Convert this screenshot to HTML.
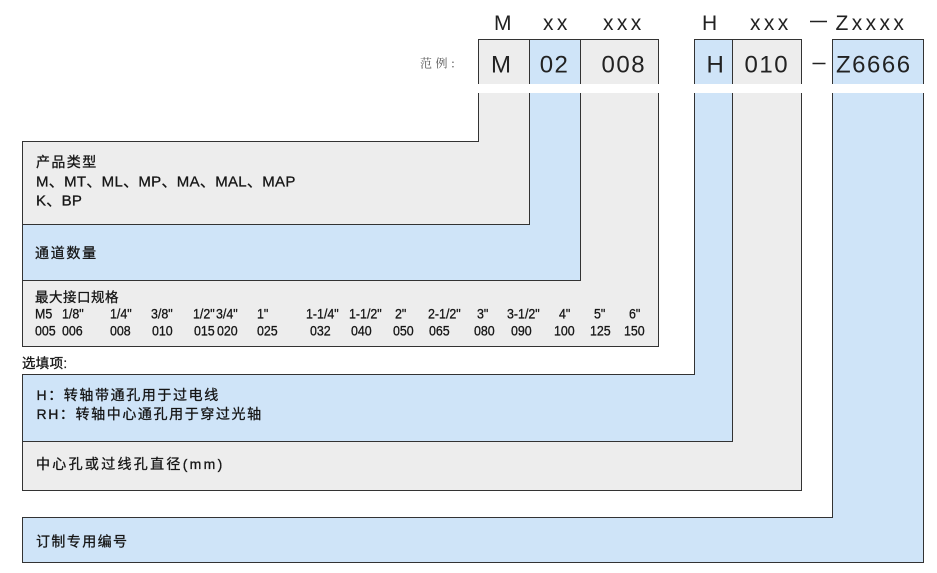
<!DOCTYPE html>
<html>
<head>
<meta charset="utf-8">
<style>
  html,body{margin:0;padding:0;background:#fff;}
  body{width:937px;height:573px;overflow:hidden;}
  svg{display:block;}
  .lat{font-family:"Liberation Sans","Noto Sans CJK SC",sans-serif;}
  .cjk{font-family:"Liberation Sans","Noto Sans CJK SC",sans-serif;}
</style>
</head>
<body>
<svg width="937" height="573" viewBox="0 0 937 573" xmlns="http://www.w3.org/2000/svg">
  <rect x="0" y="0" width="937" height="573" fill="#ffffff"/>

  <!-- regions -->
  <g stroke="#333333" stroke-width="1" stroke-linejoin="miter">
    <polygon fill="#ededed" points="478.5,39.5 529.5,39.5 529.5,224.5 22.5,224.5 22.5,141.5 478.5,141.5"/>
    <polygon fill="#cfe4f8" points="529.5,39.5 580.5,39.5 580.5,280.5 22.5,280.5 22.5,224.5 529.5,224.5"/>
    <polygon fill="#ededed" points="580.5,39.5 658.5,39.5 658.5,346.5 22.5,346.5 22.5,280.5 580.5,280.5"/>
    <polygon fill="#cfe4f8" points="694.5,39.5 732.5,39.5 732.5,441.5 22.5,441.5 22.5,374.5 694.5,374.5"/>
    <polygon fill="#ededed" points="732.5,39.5 801.5,39.5 801.5,490.5 22.5,490.5 22.5,441.5 732.5,441.5"/>
    <polygon fill="#cfe4f8" points="832.5,39.5 923.5,39.5 923.5,562.5 22.5,562.5 22.5,517.5 832.5,517.5"/>
  </g>

  <!-- white gap band under example row -->
  <rect x="468" y="84" width="464" height="9" fill="#ffffff"/>

  <!-- header row -->
  <g class="lat" font-size="21" fill="#222" style="letter-spacing:3.4px">
    <text x="494" y="30">M</text>
    <text x="543" y="30">xx</text>
    <text x="603" y="30">xxx</text>
    <text x="702" y="30">H</text>
    <text x="750" y="30">xxx</text>
    <text x="835.5" y="30">Zxxxx</text>
  </g>
  <line x1="810" y1="21.5" x2="827" y2="21.5" stroke="#222" stroke-width="1.5"/>

  <!-- example row -->
  <text x="420" y="67.5" font-family="'Noto Serif CJK SC','Noto Sans CJK SC',serif" font-size="12" fill="#555" style="letter-spacing:3.5px">范例:</text>
  <g class="lat" font-size="24" fill="#222" style="letter-spacing:1.5px">
    <text x="491" y="72.3">M</text>
    <text x="539.7" y="72.3">02</text>
    <text x="601.5" y="72.3">008</text>
    <text x="706.5" y="72.3">H</text>
    <text x="744.5" y="72.3">010</text>
    <text x="836" y="72.3">Z6666</text>
  </g>
  <line x1="812.5" y1="63.5" x2="825.5" y2="63.5" stroke="#222" stroke-width="1.5"/>

  <!-- box texts -->
  <g class="cjk" fill="#161616" stroke="#161616" stroke-width="0.3">
    <text x="36" y="167" font-size="14" style="letter-spacing:1.4px">产品类型</text>
    <text x="36" y="186.5" font-size="15" style="letter-spacing:0.3px">M、MT、ML、MP、MA、MAL、MAP</text>
    <text x="36" y="205.5" font-size="15" style="letter-spacing:0.3px">K、BP</text>

    <text x="35" y="258" font-size="14" style="letter-spacing:1.7px">通道数量</text>

    <text x="35" y="302" font-size="13.5" style="letter-spacing:0.5px">最大接口规格</text>
  </g>

  <!-- size table -->
  <g class="lat" font-size="13.5" fill="#161616" stroke="#161616" stroke-width="0.3">
    <text transform="translate(35,318.5) scale(0.92,1)">M5</text>
    <text transform="translate(62,318.5) scale(0.92,1)">1/8"</text>
    <text transform="translate(110,318.5) scale(0.92,1)">1/4"</text>
    <text transform="translate(151,318.5) scale(0.92,1)">3/8"</text>
    <text transform="translate(193,318.5) scale(0.92,1)">1/2"</text>
    <text transform="translate(216,318.5) scale(0.92,1)">3/4"</text>
    <text transform="translate(257,318.5) scale(0.92,1)">1"</text>
    <text transform="translate(306,318.5) scale(0.92,1)">1-1/4"</text>
    <text transform="translate(349,318.5) scale(0.92,1)">1-1/2"</text>
    <text transform="translate(395,318.5) scale(0.92,1)">2"</text>
    <text transform="translate(428,318.5) scale(0.92,1)">2-1/2"</text>
    <text transform="translate(477,318.5) scale(0.92,1)">3"</text>
    <text transform="translate(507,318.5) scale(0.92,1)">3-1/2"</text>
    <text transform="translate(559,318.5) scale(0.92,1)">4"</text>
    <text transform="translate(594,318.5) scale(0.92,1)">5"</text>
    <text transform="translate(629,318.5) scale(0.92,1)">6"</text>

    <text transform="translate(35,335.5) scale(0.92,1)">005</text>
    <text transform="translate(62,335.5) scale(0.92,1)">006</text>
    <text transform="translate(110,335.5) scale(0.92,1)">008</text>
    <text transform="translate(152,335.5) scale(0.92,1)">010</text>
    <text transform="translate(194,335.5) scale(0.92,1)">015</text>
    <text transform="translate(217,335.5) scale(0.92,1)">020</text>
    <text transform="translate(257,335.5) scale(0.92,1)">025</text>
    <text transform="translate(310,335.5) scale(0.92,1)">032</text>
    <text transform="translate(351,335.5) scale(0.92,1)">040</text>
    <text transform="translate(393,335.5) scale(0.92,1)">050</text>
    <text transform="translate(429,335.5) scale(0.92,1)">065</text>
    <text transform="translate(474,335.5) scale(0.92,1)">080</text>
    <text transform="translate(511,335.5) scale(0.92,1)">090</text>
    <text transform="translate(554,335.5) scale(0.92,1)">100</text>
    <text transform="translate(590,335.5) scale(0.92,1)">125</text>
    <text transform="translate(624,335.5) scale(0.92,1)">150</text>
  </g>

  <!-- optional -->
  <g class="cjk" fill="#161616" stroke="#161616" stroke-width="0.3">
    <text x="22" y="368" font-size="13.5" style="letter-spacing:0.3px">选填项:</text>
    <text x="36.5" y="400" font-size="14" style="letter-spacing:1.6px">H：转轴带通孔用于过电线</text>
    <text x="36.5" y="419" font-size="14" style="letter-spacing:1.6px">RH：转轴中心通孔用于穿过光轴</text>
    <text x="36" y="469" font-size="14" style="letter-spacing:2.3px">中心孔或过线孔直径(mm)</text>
    <text x="36" y="546.5" font-size="14" style="letter-spacing:1.4px">订制专用编号</text>
  </g>
</svg>
</body>
</html>
